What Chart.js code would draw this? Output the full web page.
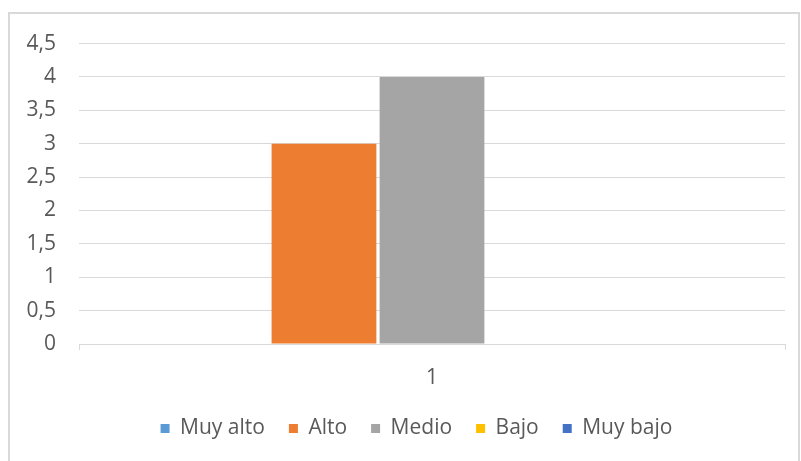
<!DOCTYPE html>
<html>
<head>
<meta charset="utf-8">
<script src="https://cdn.jsdelivr.net/npm/chart.js@4.4.0/dist/chart.umd.min.js"></script>
<style>
  html, body { margin: 0; padding: 0; background: #fff; overflow: hidden; }
  #box {
    position: absolute; left: 8px; top: 12px; width: 792px; height: 470px;
    border: 2px solid #d9d9d9; box-sizing: border-box;
  }
  #wrap { position: absolute; left: 0; top: -6px; width: 788px; height: 441px; }
</style>
</head>
<body>
<div id="box"><div id="wrap"><canvas id="myChart"></canvas></div></div>
<script>
// categories + series
const categories = ['1'];
const seriesNames = ['Muy alto', 'Alto', 'Medio', 'Bajo', 'Muy bajo'];
const muyAlto = [0];
const alto = [3];
const medio = [4];
const bajo = [0];
const muyBajo = [0];
const seriesColors = ['#5B9BD5', '#ED7D31', '#A5A5A5', '#FFC000', '#4472C4'];

const allValues = [muyAlto, alto, medio, bajo, muyBajo];
const txt = '#595959';
const fontFam = 'Open Sans';

// excel puts the legend a little right of centre
const nudgeLegend = {
  id: 'nudgeLegend',
  afterLayout: chart => {
    chart.legend.left += 19;
    chart.legend.right += 19;
  }
};

const ctx = document.getElementById('myChart');
new Chart(ctx, {
  type: 'bar',
  data: {
    labels: categories,
    datasets: seriesNames.map((name, i) => ({
      label: name,
      data: allValues[i],
      backgroundColor: seriesColors[i],
      borderWidth: 0,
      categoryPercentage: 0.765,
      barPercentage: 0.97
    }))
  },
  options: {
    responsive: true,
    maintainAspectRatio: false,
    animation: false,
    layout: { padding: { top: 7, right: 13, bottom: 0, left: 0 } },
    plugins: {
      tooltip: { enabled: false },
      legend: {
        position: 'bottom',
        labels: {
          boxWidth: 9,
          boxHeight: 9,
          color: txt,
          padding: 24,
          font: { family: fontFam, size: 21 }
        }
      }
    },
    scales: {
      x: {
        grid: { display: true, drawOnChartArea: false, offset: true, color: '#d9d9d9', tickLength: 6 },
        border: { display: true, color: '#d9d9d9' },
        ticks: { color: txt, padding: 15, font: { family: fontFam, size: 21 } },
        afterFit: scale => { scale.height = 50; }
      },
      y: {
        min: 0,
        max: 4.5,
        grid: { color: '#d9d9d9', drawTicks: false },
        border: { display: false },
        ticks: {
          stepSize: 0.5,
          color: txt,
          padding: 23,
          font: { family: fontFam, size: 21 },
          callback: v => String(v).replace('.', ',')
        },
        afterFit: scale => { scale.width = 69; }
      }
    }
  },
  plugins: [nudgeLegend]
});
</script>
</body>
</html>
